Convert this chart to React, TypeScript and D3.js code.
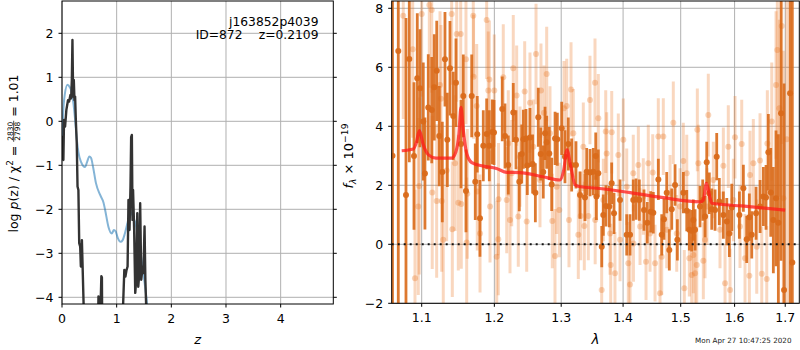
import React, { useEffect, useRef } from 'react';
import * as d3 from 'd3';

const W = 800;
const H = 350;
const FONT = 'DejaVu Sans, Verdana, sans-serif';

// ---------- left panel: p(z) ----------
const pzTicksX = [0, 1, 2, 3, 4];
const pzTicksY = [-4, -3, -2, -1, 0, 1, 2];
const blueZ = [0, 0.02, 0.05, 0.1, 0.14, 0.18, 0.21, 0.24, 0.27, 0.3, 0.35, 0.39, 0.42, 0.46, 0.5, 0.53, 0.57, 0.62, 0.7, 0.76, 0.79, 0.85, 0.91, 0.95, 0.98, 1.02, 1.07, 1.11, 1.15, 1.2, 1.245, 1.3, 1.35, 1.39, 1.45, 1.52, 1.56, 1.6];
const blueLogp = [-0.6, 0.15, 0.6, 0.83, 0.78, 0.65, 0.4, 0.03, -0.4, -0.7, -0.93, -1.02, -1.04, -0.92, -0.8, -0.83, -1.05, -1.4, -1.68, -1.85, -2.02, -2.4, -2.55, -2.47, -2.5, -2.65, -2.74, -2.7, -2.55, -2.3, -2.05, -2.17, -2.35, -2.62, -3.1, -3.76, -4.2, -4.8];
const darkZ = [0, 0.012, 0.025, 0.037, 0.056, 0.08, 0.11, 0.13, 0.154, 0.167, 0.18, 0.191, 0.204, 0.216, 0.228, 0.24, 0.253, 0.27, 0.284, 0.3, 0.315, 0.333, 0.345, 0.364, 0.377, 0.395, 0.42, 0.5, 0.6, 0.66, 0.667, 0.675, 0.7, 0.72, 0.73, 0.735, 0.8, 1.0, 1.1, 1.117, 1.14, 1.16, 1.18, 1.2, 1.216, 1.235, 1.253, 1.265, 1.278, 1.29, 1.3, 1.32, 1.34, 1.358, 1.377, 1.395, 1.41, 1.43, 1.45, 1.475, 1.49, 1.51, 1.525, 1.54, 1.56, 2.0, 3.0, 4.95];
const darkLogp = [-0.88, -0.35, -0.88, 0.03, -0.12, 0.26, 0.48, 0.45, 0.6, 0.52, 0.94, 1.85, 0.56, 0.94, 0.48, 0.56, 0.03, -0.5, -1.48, -1.56, -2.77, -2.85, -3.3, -2.7, -3.3, -4.15, -5, -6, -6, -4.6, -3.98, -4.6, -4.5, -3.52, -3.55, -4.6, -6, -6, -5, -4.2, -3.38, -3.53, -3.38, -3.3, -1.79, -2.47, -1.48, -0.36, -0.31, -2.24, -1.56, -2.47, -3.9, -3.6, -2.09, -3.76, -3.53, -1.86, -3.6, -3.3, -3.45, -2.39, -3.6, -4.2, -5, -7, -8, -9];

// ---------- right panel: spectrum ----------
const specTicksX = [1.1, 1.2, 1.3, 1.4, 1.5, 1.6, 1.7];
const specTicksY = [-2, 0, 2, 4, 6, 8];

const darkLam = [1.0622, 1.0696, 1.0795, 1.0838, 1.0899, 1.0942, 1.0977, 1.1021, 1.1043, 1.1087, 1.1133, 1.1167, 1.12, 1.1234, 1.1275, 1.1311, 1.1343, 1.1379, 1.1424, 1.1461, 1.153, 1.1562, 1.1599, 1.1679, 1.1729, 1.1757, 1.1795, 1.1842, 1.189, 1.1928, 1.1971, 1.1995, 1.2114, 1.2154, 1.2202, 1.2275, 1.2315, 1.2364, 1.24, 1.2424, 1.2463, 1.2483, 1.2523, 1.2563, 1.2604, 1.2648, 1.2685, 1.2724, 1.2751, 1.2776, 1.2816, 1.2853, 1.2905, 1.294, 1.3008, 1.3059, 1.3111, 1.3164, 1.3232, 1.3296, 1.3376, 1.3403, 1.3457, 1.3509, 1.3549, 1.356, 1.3591, 1.3647, 1.3672, 1.3716, 1.3771, 1.381, 1.3849, 1.3949, 1.4061, 1.4117, 1.4172, 1.4219, 1.4275, 1.4355, 1.4412, 1.4471, 1.4516, 1.4604, 1.4663, 1.4703, 1.4751, 1.4797, 1.484, 1.4899, 1.494, 1.5048, 1.5109, 1.5156, 1.52, 1.5229, 1.526, 1.5351, 1.5401, 1.5444, 1.5475, 1.5523, 1.5568, 1.563, 1.5661, 1.571, 1.5786, 1.5851, 1.59, 1.5946, 1.6092, 1.6169, 1.6234, 1.6285, 1.6332, 1.6417, 1.6496, 1.6561, 1.6614, 1.666, 1.6708, 1.676, 1.6814, 1.6861, 1.6915, 1.6976, 1.7099, 1.7145];
const darkFlux = [3.0, 6.55, 1.67, 6.28, 2.99, 5.63, 5.29, 4.16, 2.4, 4.64, 4.55, 5.32, 5.88, 3.67, 2.45, 6.27, 3.54, 5.97, 4.35, 5.48, 3.4, 5.03, 1.81, 5.03, 2.12, 3.73, 0.88, 3.34, 3.74, 3.34, 3.81, 3.79, 4.59, 3.67, 2.69, 4.47, 3.54, 2.12, 3.06, 3.56, 3.59, 2.67, 3.62, 2.72, 1.75, 4.31, 3.06, 2.45, 3.76, 3.46, 3.08, 2.03, 3.59, 3.56, 3.93, 2.97, 3.4, 2.69, 2.69, 1.67, 1.59, 2.46, 2.43, 2.46, 2.99, 1.62, 2.41, -0.08, 0.99, 1.3, 1.28, 2.07, 1.05, 1.5, 0.32, 0.32, 1.5, 1.53, 1.5, 1.16, 0.73, 1.1, 1.07, 2.2, 0.32, 0.85, 1.75, -0.19, 1.19, 2.01, 0.15, 1.75, 1.14, 0.49, 0.46, 0.82, 0.49, 1.28, 1.5, 0.94, 2.78, 1.73, 1.19, 1.16, 2.97, 1.45, 0.99, 0.77, 0.37, 1.25, 0.99, 1.9, 0.17, 0.92, 0.32, 1.05, 1.28, 1.62, 1.59, 3.12, 1.76, 0.82, 1.56, 0.73, 4.44, -1.55, 5.12, -0.62];
const darkErr = [10, 10, 6, 3.5, 2.5, 2.2, 2.0, 2.0, 1.9, 1.8, 1.8, 1.8, 1.7, 1.7, 1.7, 1.6, 1.6, 1.6, 1.5, 1.5, 1.5, 1.4, 1.4, 1.4, 1.3, 1.3, 1.3, 1.2, 1.2, 1.2, 1.1, 1.1, 1.1, 1.1, 1.0, 1.0, 1.0, 1.0, 1.0, 1.0, 1.0, 1.0, 1.0, 1.0, 1.0, 1.0, 0.9, 0.9, 0.9, 0.9, 0.9, 0.9, 0.9, 0.9, 0.9, 0.9, 0.9, 0.9, 0.8, 0.8, 0.8, 0.8, 0.8, 0.8, 0.8, 0.8, 0.8, 0.7, 0.7, 0.7, 0.7, 0.7, 0.7, 0.7, 0.7, 0.7, 0.7, 0.7, 0.7, 0.7, 0.7, 0.7, 0.7, 0.7, 0.7, 0.7, 0.7, 0.7, 0.7, 0.7, 0.7, 0.7, 0.7, 0.7, 0.7, 0.7, 0.7, 0.7, 0.7, 0.7, 0.7, 0.7, 0.7, 0.7, 0.8, 0.8, 0.8, 0.8, 0.8, 0.8, 0.8, 0.8, 0.8, 0.8, 0.8, 0.9, 0.9, 1.0, 1.1, 1.3, 1.5, 1.8, 2.3, 3.0, 5, 7, 12, 12];

const lightLam = [1.076, 1.0882, 1.0912, 1.0955, 1.0968, 1.1, 1.1101, 1.1133, 1.114, 1.1199, 1.1244, 1.1257, 1.1267, 1.1288, 1.1334, 1.1402, 1.1411, 1.1448, 1.1471, 1.1493, 1.1526, 1.1534, 1.1599, 1.1609, 1.1617, 1.1701, 1.1705, 1.1749, 1.1757, 1.1796, 1.189, 1.1913, 1.1928, 1.1938, 1.1999, 1.2034, 1.2057, 1.206, 1.2129, 1.2179, 1.2202, 1.2227, 1.2252, 1.2275, 1.2325, 1.2349, 1.2374, 1.2444, 1.2474, 1.2523, 1.2573, 1.2614, 1.2674, 1.2689, 1.2735, 1.2776, 1.2827, 1.2862, 1.2904, 1.293, 1.2971, 1.3044, 1.3086, 1.3122, 1.3154, 1.319, 1.3269, 1.3307, 1.3349, 1.3365, 1.3429, 1.3456, 1.3537, 1.354, 1.3591, 1.3646, 1.3673, 1.3712, 1.3728, 1.3783, 1.3794, 1.3811, 1.3865, 1.392, 1.3949, 1.4004, 1.4061, 1.4088, 1.4117, 1.4172, 1.4175, 1.4258, 1.4287, 1.4343, 1.439, 1.4429, 1.4459, 1.4506, 1.4546, 1.4603, 1.4633, 1.4663, 1.4691, 1.4751, 1.481, 1.4868, 1.4929, 1.4988, 1.5047, 1.5065, 1.5109, 1.5156, 1.5199, 1.5229, 1.526, 1.5291, 1.5302, 1.532, 1.5412, 1.5443, 1.5479, 1.5504, 1.5598, 1.5723, 1.5786, 1.5818, 1.588, 1.5913, 1.5976, 1.6008, 1.6104, 1.6137, 1.6201, 1.6285, 1.6298, 1.6363, 1.643, 1.6495, 1.6529, 1.6628, 1.664, 1.6728, 1.6814, 1.684, 1.6881, 1.6929, 1.6962, 1.7031];
const lightFlux = [7.75, 6.61, -1.15, 1.28, 1.98, 7.81, 8.11, 7.94, 1.76, 1.47, 5.4, 4.93, 1.47, 0.15, 2.5, 7.81, 0.51, 2.75, 7.13, 1.41, 7.13, 1.37, 6.27, 0.06, 1.71, 7.75, 5.68, 4.69, 1.79, 0.37, 7.6, 5.21, 5.59, 1.28, 5.21, -0.42, 0.17, 1.53, 5.66, 1.5, 3.42, 0.82, 2.41, 5.97, 5.04, 0.94, 2.97, 5.18, 0.77, 4.8, 3.31, 6.45, 2.18, 5.21, 4.46, 5.77, 3.76, 0.79, -0.4, 1.95, 1.16, 4.61, 4.69, 0.82, 5.25, 3.76, 0.32, 0.96, 3.31, 0.62, 0.96, 4.89, 5.48, 0.82, 4.27, -1.55, 1.5, 3.82, 3.08, 0.37, -0.7, 3.8, -0.98, 3.03, 0.15, 3.54, 1.95, -0.64, -1.36, 2.41, 0.03, 2.69, 0.6, 1.62, -0.59, 2.75, 0.37, 2.43, -0.64, 3.65, -1.66, -0.42, 3.65, 0.49, 1.73, 4.12, 0.37, 1.28, 2.82, -1.49, 2.41, -0.47, -1.04, -0.36, -0.98, -0.7, 3.88, 2.75, -0.56, 0.15, 1.28, 4.38, 2.18, 0.49, 2.66, -1.32, 3.31, -1.55, 1.5, 3.63, 0.6, 3.4, -0.47, -1.07, 2.35, 2.75, -0.08, 2.84, -1.0, -1.18, 3.42, 4.16, 5.4, 6.59, 4.61, 7.4, 1.56, 3.56];
const lightErr = [3.5, 3.0, 3.0, 3.0, 3.0, 2.8, 2.8, 2.8, 2.6, 2.6, 2.5, 2.5, 2.4, 2.4, 2.4, 2.4, 2.3, 2.3, 2.3, 2.3, 2.2, 2.2, 2.2, 2.2, 2.2, 2.1, 2.1, 2.1, 2.0, 2.0, 2.0, 2.0, 2.0, 1.9, 1.9, 1.9, 1.9, 1.9, 1.8, 1.8, 1.8, 1.8, 1.8, 1.8, 1.7, 1.7, 1.7, 1.7, 1.7, 1.7, 1.6, 1.7, 1.6, 1.6, 1.6, 1.6, 1.6, 1.6, 1.6, 1.6, 1.6, 1.6, 1.6, 1.6, 1.6, 1.5, 1.5, 1.5, 1.5, 1.5, 1.5, 1.5, 1.5, 1.5, 1.5, 1.5, 1.4, 1.4, 1.4, 1.4, 1.4, 1.4, 1.4, 1.4, 1.4, 1.4, 1.3, 1.4, 1.4, 1.3, 1.3, 1.3, 1.3, 1.3, 1.3, 1.3, 1.3, 1.3, 1.3, 1.3, 1.3, 1.3, 1.3, 1.3, 1.3, 1.4, 1.3, 1.3, 1.3, 1.3, 1.3, 1.3, 1.3, 1.3, 1.3, 1.3, 1.4, 1.3, 1.3, 1.3, 1.3, 1.4, 1.3, 1.3, 1.3, 1.3, 1.4, 1.4, 1.4, 1.4, 1.4, 1.5, 1.5, 1.5, 1.5, 1.5, 1.6, 1.6, 1.6, 1.8, 1.8, 2.0, 2.5, 3.0, 3.0, 4.0, 5.0, 6.0];

const modelLam = [1.074, 1.089, 1.093, 1.097, 1.102, 1.109, 1.119, 1.14, 1.146, 1.15, 1.153, 1.156, 1.161, 1.168, 1.184, 1.203, 1.218, 1.237, 1.272, 1.298, 1.304, 1.309, 1.315, 1.322, 1.33, 1.357, 1.412, 1.469, 1.535, 1.541, 1.547, 1.553, 1.557, 1.614, 1.7];
const modelFlux = [3.17, 3.23, 3.45, 3.85, 3.38, 3.03, 2.92, 2.92, 3.14, 3.7, 4.64, 3.9, 3.07, 2.77, 2.65, 2.57, 2.44, 2.43, 2.29, 2.18, 2.52, 3.2, 2.63, 2.01, 1.95, 1.9, 1.75, 1.58, 1.44, 1.5, 2.07, 1.62, 1.39, 1.3, 1.16];

const objName = 'j163852p4039';
const objId = 'ID=872';
const objZ = 'z=0.2109';
const stamp = 'Mon Apr 27 10:47:25 2020';

const fmtMinus = (v: number) => (v < 0 ? '\u2212' + Math.abs(v) : String(v));

export default function App() {
  const ref = useRef<SVGSVGElement>(null);

  useEffect(() => {
    document.body.style.margin = '0';
    const svg = d3.select(ref.current as SVGSVGElement);
    svg.selectAll('*').remove();
    svg.append('rect').attr('width', W).attr('height', H).attr('fill', 'white');

    const GRID = '#b0b0b0';
    const TS = 12.5;

    // ================= LEFT PANEL =================
    const L = { x0: 62, x1: 333.3, y0: 1, y1: 304 };
    const xz = d3.scaleLinear().domain([0, 4.963]).range([L.x0, L.x1]);
    const yp = d3.scaleLinear().domain([-4.152, 2.734]).range([L.y1, L.y0]);

    const defs = svg.append('defs');
    defs.append('clipPath').attr('id', 'clipL').append('rect')
      .attr('x', L.x0).attr('y', L.y0).attr('width', L.x1 - L.x0).attr('height', L.y1 - L.y0);

    const gl = svg.append('g');
    gl.selectAll('.gx').data(pzTicksX).enter().append('line')
      .attr('x1', d => xz(d)).attr('x2', d => xz(d)).attr('y1', L.y0).attr('y2', L.y1)
      .attr('stroke', GRID).attr('stroke-width', 1);
    gl.selectAll('.gy').data(pzTicksY).enter().append('line')
      .attr('x1', L.x0).attr('x2', L.x1).attr('y1', d => yp(d)).attr('y2', d => yp(d))
      .attr('stroke', GRID).attr('stroke-width', 1);

    const plotL = gl.append('g').attr('clip-path', 'url(#clipL)');
    const blueLine = d3.line<number>().x((_, i) => xz(blueZ[i])).y(d => yp(d)).curve(d3.curveMonotoneX);
    plotL.append('path').attr('d', blueLine(blueLogp) as string)
      .attr('fill', 'none').attr('stroke', '#1f77b4').attr('stroke-opacity', 0.55).attr('stroke-width', 2);
    const darkLine = d3.line<number>().x((_, i) => xz(darkZ[i])).y(d => yp(d));
    plotL.append('path').attr('d', darkLine(darkLogp) as string)
      .attr('fill', 'none').attr('stroke', '#333333').attr('stroke-width', 2.4).attr('stroke-linejoin', 'round');

    gl.append('rect').attr('x', L.x0).attr('y', L.y0).attr('width', L.x1 - L.x0).attr('height', L.y1 - L.y0)
      .attr('fill', 'none').attr('stroke', 'black').attr('stroke-width', 1);

    // ticks
    pzTicksX.forEach(t => {
      gl.append('line').attr('x1', xz(t)).attr('x2', xz(t)).attr('y1', L.y1).attr('y2', L.y1 + 3.5).attr('stroke', 'black');
      gl.append('text').attr('x', xz(t)).attr('y', L.y1 + 18.5).attr('text-anchor', 'middle')
        .attr('font-family', FONT).attr('font-size', TS).text(fmtMinus(t));
    });
    pzTicksY.forEach(t => {
      gl.append('line').attr('x1', L.x0 - 3.5).attr('x2', L.x0).attr('y1', yp(t)).attr('y2', yp(t)).attr('stroke', 'black');
      gl.append('line').attr('x1', L.x1).attr('x2', L.x1 + 3.5).attr('y1', yp(t)).attr('y2', yp(t)).attr('stroke', 'black');
      gl.append('text').attr('x', L.x0 - 8.5).attr('y', yp(t)).attr('dy', '0.36em').attr('text-anchor', 'end')
        .attr('font-family', FONT).attr('font-size', TS).text(fmtMinus(t));
    });

    // annotation
    gl.append('text').attr('x', 318.5).attr('y', 25.5).attr('text-anchor', 'end')
      .attr('font-family', FONT).attr('font-size', 12.3).text(objName);
    gl.append('text').attr('x', 242.5).attr('y', 39).attr('text-anchor', 'end')
      .attr('font-family', FONT).attr('font-size', 12.3).text(objId);
    gl.append('text').attr('x', 318.5).attr('y', 39).attr('text-anchor', 'end')
      .attr('font-family', FONT).attr('font-size', 12.3).text(objZ);

    // x label
    gl.append('text').attr('x', (L.x0 + L.x1) / 2).attr('y', 344).attr('text-anchor', 'middle')
      .attr('font-family', FONT).attr('font-size', 13).attr('font-style', 'italic').text('z');

    // y label with fraction
    const yl = gl.append('g');
    const t1 = yl.append('text').attr('x', 0).attr('y', 0).attr('font-family', FONT).attr('font-size', TS)
      .style('white-space', 'pre');
    t1.append('tspan').text('log ');
    t1.append('tspan').attr('font-style', 'italic').text('p');
    t1.append('tspan').text('(z) / \u03c7');
    t1.append('tspan').attr('font-size', 8.8).attr('dy', -5).text('2');
    t1.append('tspan').attr('dy', 5).text(' = ');
    const L1 = (t1.node() as SVGTextElement).getComputedTextLength();
    const fs = 7.5;
    const num = yl.append('text').attr('font-family', FONT).attr('font-size', fs).attr('text-anchor', 'middle').text('2830');
    const den = yl.append('text').attr('font-family', FONT).attr('font-size', fs).attr('text-anchor', 'middle').text('2798');
    const fw = Math.max((num.node() as SVGTextElement).getComputedTextLength(), (den.node() as SVGTextElement).getComputedTextLength()) + 2;
    num.attr('x', L1 + fw / 2).attr('y', -4.8);
    den.attr('x', L1 + fw / 2).attr('y', 2.6);
    yl.append('line').attr('x1', L1).attr('x2', L1 + fw).attr('y1', -3.8).attr('y2', -3.8)
      .attr('stroke', 'black').attr('stroke-width', 0.7);
    const t2 = yl.append('text').attr('x', L1 + fw).attr('y', 0).attr('font-family', FONT).attr('font-size', TS)
      .style('white-space', 'pre').text(' = 1.01');
    const L2 = (t2.node() as SVGTextElement).getComputedTextLength();
    const total = L1 + fw + L2;
    yl.attr('transform', `translate(17.5, ${153.5 + total / 2}) rotate(-90)`);

    // ================= RIGHT PANEL =================
    const R = { x0: 391.7, x1: 799.3, y0: 1, y1: 303.3 };
    const xl = d3.scaleLog().domain([1.0612, 1.7289]).range([R.x0, R.x1]);
    const yf = d3.scaleLinear().domain([-2, 8.247]).range([R.y1, R.y0]);

    defs.append('clipPath').attr('id', 'clipR').append('rect')
      .attr('x', R.x0).attr('y', R.y0).attr('width', R.x1 - R.x0).attr('height', R.y1 - R.y0);

    const gr = svg.append('g');
    gr.selectAll('.gx').data(specTicksX).enter().append('line')
      .attr('x1', d => xl(d)).attr('x2', d => xl(d)).attr('y1', R.y0).attr('y2', R.y1)
      .attr('stroke', GRID).attr('stroke-width', 1);
    gr.selectAll('.gy').data(specTicksY).enter().append('line')
      .attr('x1', R.x0).attr('x2', R.x1).attr('y1', d => yf(d)).attr('y2', d => yf(d))
      .attr('stroke', GRID).attr('stroke-width', 1);

    const plotR = gr.append('g').attr('clip-path', 'url(#clipR)');
    const LIGHT = '#e8701a';
    const DARK = '#d96a1a';

    const lightIdx = d3.range(lightLam.length);
    plotR.selectAll('.le').data(lightIdx).enter().append('line')
      .attr('x1', i => xl(lightLam[i])).attr('x2', i => xl(lightLam[i]))
      .attr('y1', i => yf(lightFlux[i] - lightErr[i])).attr('y2', i => yf(lightFlux[i] + lightErr[i]))
      .attr('stroke', LIGHT).attr('stroke-opacity', 0.28).attr('stroke-width', 3);
    plotR.selectAll('.lp').data(lightIdx).enter().append('circle')
      .attr('cx', i => xl(lightLam[i])).attr('cy', i => yf(lightFlux[i])).attr('r', 3)
      .attr('fill', LIGHT).attr('fill-opacity', 0.3);

    const darkIdx = d3.range(darkLam.length);
    plotR.selectAll('.de').data(darkIdx).enter().append('line')
      .attr('x1', i => xl(darkLam[i])).attr('x2', i => xl(darkLam[i]))
      .attr('y1', i => yf(darkFlux[i] - darkErr[i])).attr('y2', i => yf(darkFlux[i] + darkErr[i]))
      .attr('stroke', DARK).attr('stroke-opacity', 0.9).attr('stroke-width', 2.8);
    plotR.selectAll('.dp').data(darkIdx).enter().append('circle')
      .attr('cx', i => xl(darkLam[i])).attr('cy', i => yf(darkFlux[i])).attr('r', 3)
      .attr('fill', DARK).attr('fill-opacity', 0.95);

    const modelLine = d3.line<number>().x((_, i) => xl(modelLam[i])).y(d => yf(d)).curve(d3.curveMonotoneX);
    plotR.append('path').attr('d', modelLine(modelFlux) as string)
      .attr('fill', 'none').attr('stroke', '#ff1a1a').attr('stroke-opacity', 0.75).attr('stroke-width', 3.2);

    plotR.append('line').attr('x1', R.x0).attr('x2', R.x1).attr('y1', yf(0)).attr('y2', yf(0))
      .attr('stroke', '#111').attr('stroke-width', 2).attr('stroke-dasharray', '2,4');

    gr.append('rect').attr('x', R.x0).attr('y', R.y0).attr('width', R.x1 - R.x0).attr('height', R.y1 - R.y0)
      .attr('fill', 'none').attr('stroke', 'black').attr('stroke-width', 1);

    specTicksX.forEach(t => {
      gr.append('line').attr('x1', xl(t)).attr('x2', xl(t)).attr('y1', R.y1).attr('y2', R.y1 + 3.5).attr('stroke', 'black');
      gr.append('text').attr('x', xl(t)).attr('y', R.y1 + 18.5).attr('text-anchor', 'middle')
        .attr('font-family', FONT).attr('font-size', TS).text(t.toFixed(1));
    });
    specTicksY.forEach(t => {
      gr.append('line').attr('x1', R.x0 - 3.5).attr('x2', R.x0).attr('y1', yf(t)).attr('y2', yf(t)).attr('stroke', 'black');
      gr.append('text').attr('x', R.x0 - 8.5).attr('y', yf(t)).attr('dy', '0.36em').attr('text-anchor', 'end')
        .attr('font-family', FONT).attr('font-size', TS).text(fmtMinus(t));
    });

    gr.append('text').attr('x', (R.x0 + R.x1) / 2).attr('y', 344).attr('text-anchor', 'middle')
      .attr('font-family', FONT).attr('font-size', 13.5).attr('font-style', 'italic').text('\u03bb');

    const ry = gr.append('text').attr('transform', 'translate(353, 156) rotate(-90)')
      .attr('text-anchor', 'middle').attr('font-family', FONT).attr('font-size', 13).style('white-space', 'pre');
    ry.append('tspan').attr('font-style', 'italic').text('f');
    ry.append('tspan').attr('font-size', 9).attr('dy', 2.5).attr('font-style', 'italic').text('\u03bb');
    ry.append('tspan').attr('dy', -2.5).text(' \u00d7 10');
    ry.append('tspan').attr('font-size', 9.2).attr('dy', -5.5).text('\u221219');

    svg.append('text').attr('x', 791.5).attr('y', 343.3).attr('text-anchor', 'end')
      .attr('font-family', FONT).attr('font-size', 7.2).attr('fill', '#222').text(stamp);
  }, []);

  return <svg ref={ref} width={W} height={H} style={{ display: 'block' }} />;
}
